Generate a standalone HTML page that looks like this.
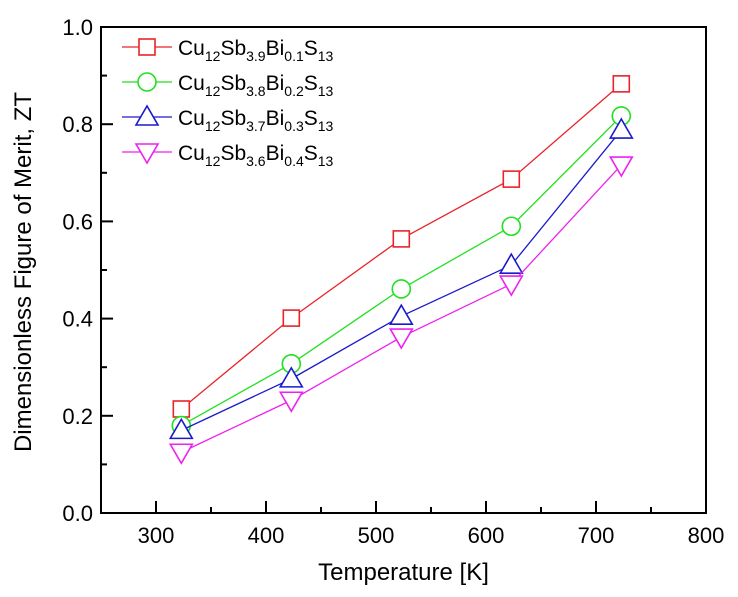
<!DOCTYPE html>
<html><head><meta charset="utf-8"><style>
body{margin:0;background:#fff}
svg text{font-family:"Liberation Sans",Arial,sans-serif}
</style></head><body>
<svg id="chart" width="738" height="592" viewBox="0 0 738 592" xmlns="http://www.w3.org/2000/svg"></svg>
<script>
const temps=[323,423,523,623,723];
const s1=[0.214,0.401,0.564,0.687,0.883];
const s2=[0.18,0.307,0.461,0.590,0.817];
const s3=[0.17,0.276,0.405,0.510,0.788];
const s4=[0.125,0.232,0.362,0.471,0.716];
const xTicks=[300,400,500,600,700,800];
const yTicks=[0.0,0.2,0.4,0.6,0.8,1.0];
const names=[["3.9","0.1"],["3.8","0.2"],["3.7","0.3"],["3.6","0.4"]];
const colors=["#e8242a","#22e022","#1a1acc","#ee22ee"];
const shapes=["square","circle","up","down"];
const L=101,R=706,T=27,B=513;
const X=v=>L+(v-250)/550*(R-L);
const Y=v=>B-v*(B-T);
const svg=document.getElementById('chart');
const NS="http://www.w3.org/2000/svg";
function mk(t,a,p){const e=document.createElementNS(NS,t);for(const k in a)e.setAttribute(k,a[k]);(p||svg).appendChild(e);return e;}
const fr=mk('rect',{x:L,y:T,width:R-L,height:B-T,fill:'none',stroke:'#000','stroke-width':2});


for(let v=250;v<=800;v+=50){
  const major=v%100===0;
  const t=mk('line',{x1:X(v),x2:X(v),y1:B,y2:B-(major?12:6),stroke:'#000','stroke-width':2});
  
  
}
xTicks.forEach(v=>{
  const t=mk('text',{x:X(v),y:B+30,'text-anchor':'middle','font-size':22});
  
  
  t.textContent=v;
});
for(let i=0;i<=10;i++){
  const v=i/10,major=i%2===0;
  const t=mk('line',{x1:L,x2:L+(major?12:6),y1:Y(v),y2:Y(v),stroke:'#000','stroke-width':2});
  
  
}
yTicks.forEach(v=>{
  const t=mk('text',{x:L-8,y:Y(v)+8,'text-anchor':'end','font-size':22});
  
  
  t.textContent=v.toFixed(1);
});
const xt=mk('text',{x:(L+R)/2,y:580,'text-anchor':'middle','font-size':24});


xt.textContent='Temperature [K]';
const yt=mk('text',{x:0,y:0,transform:`translate(31,${(T+B)/2+2}) rotate(-90)`,'text-anchor':'middle','font-size':24});


yt.textContent='Dimensionless Figure of Merit, ZT';
function marker(shape,cx,cy,c,g){
  const a={fill:'#fff',stroke:c,'stroke-width':1.6};
  let e;
  if(shape==='square')e=mk('rect',Object.assign({x:cx-8,y:cy-8,width:16,height:16},a),g);
  else if(shape==='circle')e=mk('circle',Object.assign({cx:cx,cy:cy,r:9},a),g);
  else if(shape==='up')e=mk('polygon',Object.assign({points:`${cx},${cy-11} ${cx-11},${cy+8} ${cx+11},${cy+8}`},a),g);
  else e=mk('polygon',Object.assign({points:`${cx},${cy+11} ${cx-11},${cy-8} ${cx+11},${cy-8}`},a),g);
  return e;
}
[s1,s2,s3,s4].forEach((s,k)=>{
  const g=mk('g',{});
  
  
  const pl=mk('polyline',{points:s.map((v,i)=>X(temps[i])+','+Y(v)).join(' '),fill:'none',stroke:colors[k],'stroke-width':1.3},g);
  
  
  s.forEach((v,i)=>{
    const m=marker(shapes[k],X(temps[i]),Y(v),colors[k],g);
    
    
  });
});
names.forEach((n,k)=>{
  const y=47+k*35;
  const g=mk('g',{});
  
  
  mk('line',{x1:122,x2:172,y1:y,y2:y,stroke:colors[k],'stroke-width':1.3},g);
  marker(shapes[k],147,y,colors[k],g);
  const t=mk('text',{x:178,y:y+8,'font-size':21},g);
  t.innerHTML=`Cu<tspan font-size="14" dy="6">12</tspan><tspan dy="-6">Sb</tspan><tspan font-size="14" dy="6">${n[0]}</tspan><tspan dy="-6">Bi</tspan><tspan font-size="14" dy="6">${n[1]}</tspan><tspan dy="-6">S</tspan><tspan font-size="14" dy="6">13</tspan>`;
});
</script>
</body></html>
